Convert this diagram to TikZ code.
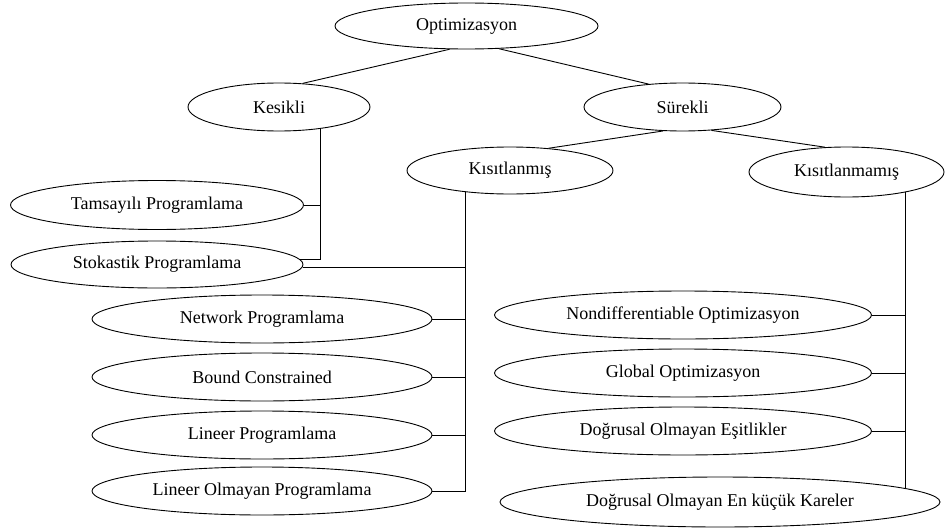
\documentclass[tikz,border=0pt]{standalone}
\usepackage{fontspec}
\setmainfont{LiberationSerif}[Extension=.ttf, UprightFont=*-Regular, BoldFont=*-Bold]
\usetikzlibrary{shapes.geometric}

\tikzset{
  oval/.style={ellipse, draw, line width=0.9pt, inner sep=0pt,
    font=\rmfamily\fontsize{18}{20}\selectfont},
  link/.style={line width=0.9pt}
}

\begin{document}
\begin{tikzpicture}[x=1pt, y=-1pt]
  \useasboundingbox (0,0) rectangle (945,530);

  % root and the two main branches
  \node[oval, minimum width=263pt, minimum height=46pt] (opt) at (466.5,26) {Optimizasyon};
  \node[oval, minimum width=182pt, minimum height=48pt] (kes) at (279,107) {Kesikli};
  \node[oval, minimum width=197pt, minimum height=48pt] (sur) at (682.5,107) {Sürekli};

  % continuous subdivisions
  \node[oval, minimum width=206pt, minimum height=47pt] (kis) at (510,170.5) {Kısıtlanmış};
  \node[oval, minimum width=195pt, minimum height=50pt] (kmm) at (846.5,172) {Kısıtlanmamış};

  % discrete leaves
  \node[oval, minimum width=293pt, minimum height=49pt] (tam) at (157,205) {Tamsayılı Programlama};
  \node[oval, minimum width=292pt, minimum height=47pt] (sto) at (157,264.5) {Stokastik Programlama};

  % constrained leaves
  \node[oval, minimum width=340pt, minimum height=48pt] (net) at (262,319) {Network Programlama};
  \node[oval, minimum width=340pt, minimum height=48pt] (bou) at (262,377) {Bound Constrained};
  \node[oval, minimum width=340pt, minimum height=48pt] (lin) at (262,435) {Lineer Programlama};
  \node[oval, minimum width=340pt, minimum height=48pt] (lom) at (262,491) {Lineer Olmayan Programlama};

  % unconstrained leaves
  \node[oval, minimum width=377pt, minimum height=48pt] (non) at (683,315) {Nondifferentiable Optimizasyon};
  \node[oval, minimum width=377pt, minimum height=48pt] (glo) at (683,373) {Global Optimizasyon};
  \node[oval, minimum width=377pt, minimum height=48pt] (des) at (683,431) {Doğrusal Olmayan Eşitlikler};
  \node[oval, minimum width=440pt, minimum height=50pt] (dek) at (720,502) {Doğrusal Olmayan En küçük Kareler};

  % upper tree links
  \draw[link] (opt.234) -- (kes.45);
  \draw[link] (opt.-35) -- (sur.146);
  \draw[link] (sur.231) -- (kis.30.6);
  \draw[link] (sur.-39) -- (kmm.131);

  % discrete trunk
  \draw[link] (kes.-28) |- (sto.2);
  \draw[link] (tam.east) -- (tam.east -| kes.-28);

  % constrained trunk
  \draw[link] (kis.206.4) |- (lom.east);
  \draw[link] (sto.-1) -- (sto.-1 -| kis.206.4);
  \draw[link] (net.east) -- (net.east -| kis.206.4);
  \draw[link] (bou.east) -- (bou.east -| kis.206.4);
  \draw[link] (lin.east) -- (lin.east -| kis.206.4);

  % unconstrained trunk
  \draw[link] (kmm.-19.4) -- (kmm.-19.4 |- dek.4.26);
  \draw[link] (non.east) -- (non.east -| kmm.-19.4);
  \draw[link] (glo.east) -- (glo.east -| kmm.-19.4);
  \draw[link] (des.east) -- (des.east -| kmm.-19.4);
\end{tikzpicture}
\end{document}
